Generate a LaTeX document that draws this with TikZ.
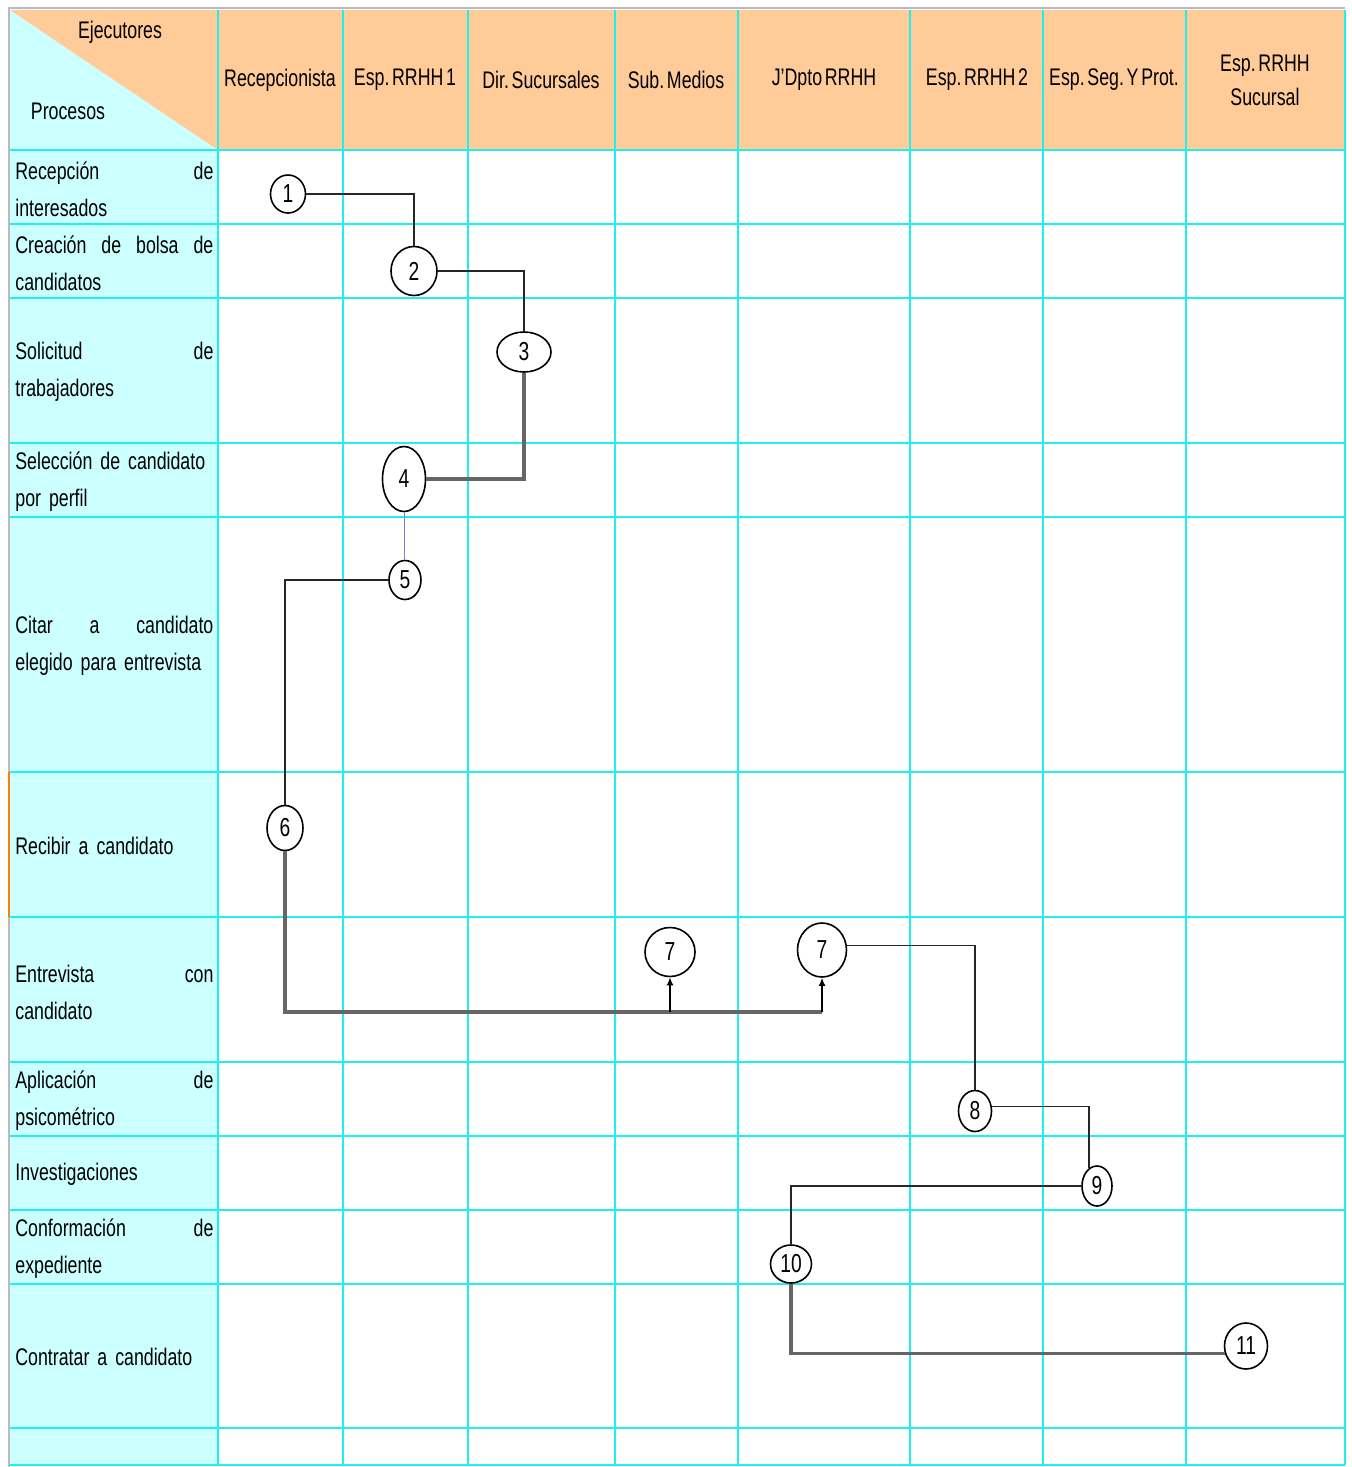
\documentclass[tikz,border=0pt]{standalone}
\usepackage{fontspec}
\setmainfont{Liberation Sans}[FakeStretch=0.74, WordSpace=0.55]
\usetikzlibrary{shapes.geometric}
\usetikzlibrary{arrows.meta}
\definecolor{encabezado}{RGB}{255,204,153}
\definecolor{procesos}{RGB}{204,255,255}
\definecolor{rejilla}{RGB}{30,240,240}
\definecolor{borde}{RGB}{185,185,190}
\frenchspacing

\begin{document}
\begin{tikzpicture}[x=0.5pt, y=-0.5pt,
  paso/.style={draw, ellipse, fill=white, line width=0.8pt, inner sep=0pt, font=\fontsize{13pt}{13pt}\selectfont},
  proc/.style={anchor=west, text width=99pt, align=left, inner sep=0pt, font=\fontsize{12pt}{18.5pt}\selectfont\hyphenpenalty 10000\relax},
  ejec/.style={align=center, inner sep=0pt, font=\fontsize{12pt}{17pt}\selectfont},
  linea/.style={line width=0.6pt, rejilla}]
\useasboundingbox [fill=white] (0, 0) rectangle (1352, 1467);

\fill [encabezado] (218, 10) rectangle (1345, 150);
\fill [procesos] (10, 150) rectangle (218, 1465);
\fill [procesos] (10, 10) -- (218, 150) -- (10, 150) -- cycle;
\fill [encabezado] (10, 10) -- (218, 10) -- (218, 150) -- cycle;

\draw [linea] (218, 10) -- (218, 1465);
\draw [linea] (343, 10) -- (343, 1465);
\draw [linea] (468, 10) -- (468, 1465);
\draw [linea] (615, 10) -- (615, 1465);
\draw [linea] (738, 10) -- (738, 1465);
\draw [linea] (910, 10) -- (910, 1465);
\draw [linea] (1043, 10) -- (1043, 1465);
\draw [linea] (1186, 10) -- (1186, 1465);
\draw [linea] (1345, 10) -- (1345, 1465);
\draw [linea] (10, 150) -- (1345, 150);
\draw [linea] (10, 224) -- (1345, 224);
\draw [linea] (10, 298) -- (1345, 298);
\draw [linea] (10, 443) -- (1345, 443);
\draw [linea] (10, 517) -- (1345, 517);
\draw [linea] (10, 772) -- (1345, 772);
\draw [linea] (10, 917) -- (1345, 917);
\draw [linea] (10, 1062) -- (1345, 1062);
\draw [linea] (10, 1136) -- (1345, 1136);
\draw [linea] (10, 1210) -- (1345, 1210);
\draw [linea] (10, 1284) -- (1345, 1284);
\draw [linea] (10, 1428) -- (1345, 1428);
\draw [linea] (10, 1465) -- (1345, 1465);

\draw [borde, line width=1pt] (8, 8) -- (1345, 8);
\draw [borde, line width=1pt] (9, 8) -- (9, 1467);
\draw [orange, line width=1pt] (9, 772) -- (9, 917);

\node (ejecutores) [ejec] at (120, 32) {Ejecutores};
\node (procesos) [ejec] at (68, 111) {Procesos};

\node (h1) [ejec] at (280, 80) {Recepcionista};
\node (h2) [ejec] at (405, 80) {Esp. RRHH 1};
\node (h3) [ejec] at (541, 80) {Dir. Sucursales};
\node (h4) [ejec] at (676, 80) {Sub. Medios};
\node (h5) [ejec] at (824, 80) {J'Dpto RRHH};
\node (h6) [ejec] at (977, 80) {Esp. RRHH 2};
\node (h7) [ejec] at (1114, 80) {Esp. Seg. Y Prot.};
\node (h8) [ejec] at (1265, 80) {Esp. RRHH\\Sucursal};

\node (r1) [proc] at (15, 189) {Recepción\hfill de\\interesados};
\node (r2) [proc] at (15, 263) {Creación\hfill de\hfill bolsa\hfill de\\candidatos};
\node (r3) [proc] at (15, 372) {Solicitud\hfill de\\trabajadores};
\node (r4) [proc] at (15, 482) {Selección de candidato\\por perfil};
\node (r5) [proc] at (15, 646) {Citar\hfill a\hfill candidato\\elegido para entrevista};
\node (r6) [proc] at (15, 846) {Recibir a candidato};
\node (r7) [proc] at (15, 992) {Entrevista\hfill con\\candidato};
\node (r8) [proc] at (15, 1101) {Aplicación\hfill de\\psicométrico};
\node (r9) [proc] at (15, 1174) {Investigaciones};
\node (r10) [proc] at (15, 1249) {Conformación\hfill de\\expediente};
\node (r11) [proc] at (15, 1357) {Contratar a candidato};

\node (n1) [paso, minimum width=17.5pt, minimum height=19pt] at (288, 194) {1};
\node (n2) [paso, minimum width=23pt, minimum height=24.5pt] at (414, 271) {2};
\node (n3) [paso, minimum width=27pt, minimum height=20pt] at (524, 352) {3};
\node (n4) [paso, minimum width=21.5pt, minimum height=32.5pt] at (404, 479) {4};
\node (n5) [paso, minimum width=16pt, minimum height=19.5pt] at (405, 580) {5};
\node (n6) [paso, minimum width=18pt, minimum height=22.5pt] at (285, 828) {6};
\node (n7a) [paso, minimum width=25pt, minimum height=24.5pt] at (670, 952) {7};
\node (n7b) [paso, minimum width=24.5pt, minimum height=27pt] at (822, 950) {7};
\node (n8) [paso, minimum width=16.5pt, minimum height=20.5pt] at (975, 1111) {8};
\node (n9) [paso, minimum width=15pt, minimum height=20pt] at (1097, 1186) {9};
\node (n10) [paso, minimum width=20.5pt, minimum height=19pt] at (791, 1264) {10};
\node (n11) [paso, minimum width=21.5pt, minimum height=23pt] at (1246, 1346) {11};
\coordinate (bus) at (0, 1012);

\draw [line width=0.8pt, black!85] (n1.east) -| (n2.north);
\draw [line width=0.8pt, black!85] (n2.east) -| (n3.north);
\draw [line width=1.6pt, black!60] (n3.south) |- (n4.east);
\draw [line width=0.5pt, blue!40!gray!70] (n4.south) -- (n4.south |- n5.north);
\draw [line width=0.8pt, black!85] (n5.west) -| (n6.north);
\draw [line width=1.6pt, black!60] (n6.south) |- (n7b.south |- bus);
\draw [line width=0.8pt, arrows={-{Latex[length=4pt, width=3.5pt]}}] (n7a.south |- bus) -- (n7a.south);
\draw [line width=0.8pt, arrows={-{Latex[length=4pt, width=3.5pt]}}] (n7b.south |- bus) -- (n7b.south);
\draw [line width=0.8pt, black!85] (n7b.10) -| (n8.north);
\draw [line width=0.8pt, black!85] (n8.15) -| (n9.115);
\draw [line width=0.8pt, black!85] (n9.west) -| (n10.north);
\draw [line width=1.6pt, black!60] (n10.south) |- (n11.200);
\end{tikzpicture}
\end{document}
